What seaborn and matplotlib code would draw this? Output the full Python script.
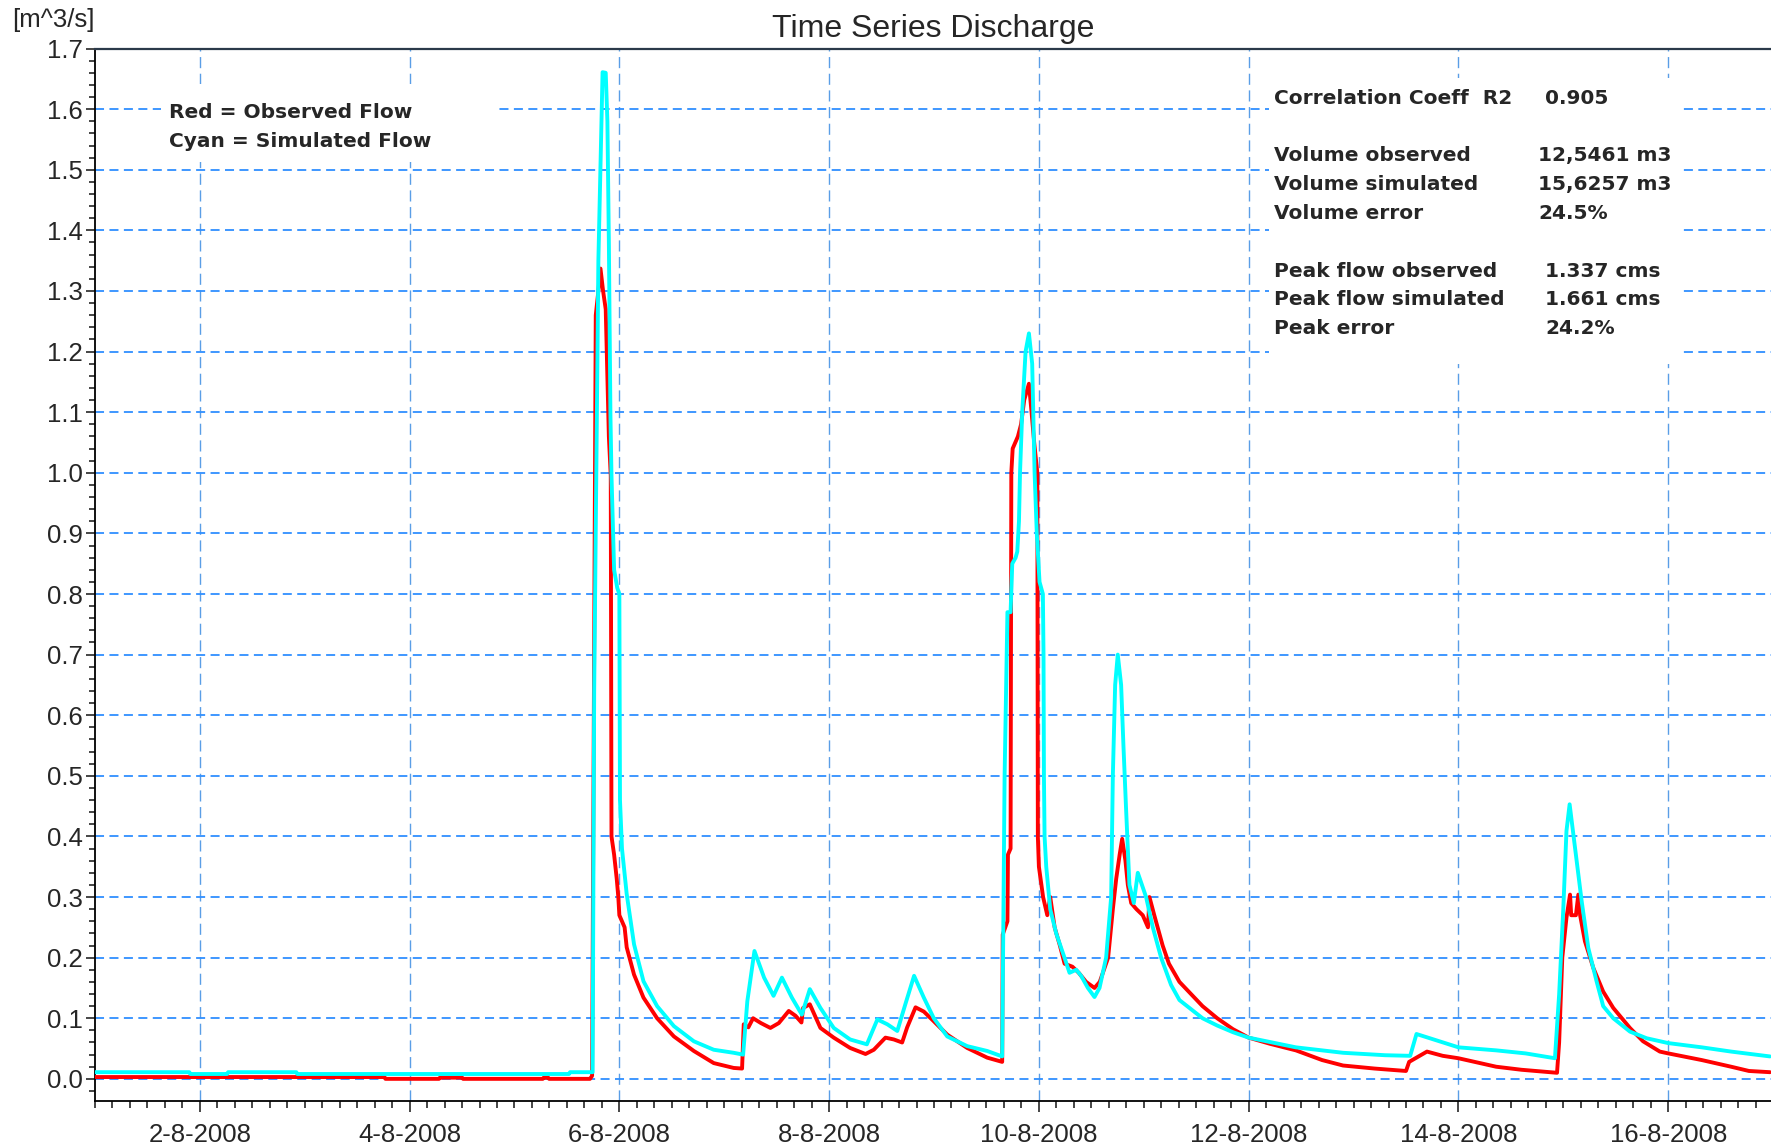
import numpy as np
import pandas as pd
import seaborn as sns
import matplotlib.pyplot as plt
import matplotlib.dates as mdates
import matplotlib.patches as patches
from matplotlib.ticker import MultipleLocator, FormatStrFormatter, FuncFormatter

sns.set_style('white')
plt.rcParams['font.family'] = ['Liberation Sans', 'DejaVu Sans']

# time in days after 1-8-2008 00:00, flow in m3/s
obs_day = [0.0, 2.76, 2.77, 3.28, 3.29, 3.50, 3.51, 4.27, 4.28, 4.32, 4.33, 4.72,
           4.74, 4.75, 4.775, 4.80, 4.82, 4.845, 4.87, 4.90, 4.918, 4.925, 4.95, 4.975,
           4.99, 5.0, 5.05, 5.07, 5.14, 5.23, 5.36, 5.52, 5.71, 5.90, 6.09, 6.17,
           6.186, 6.23, 6.275, 6.35, 6.44, 6.52, 6.615, 6.68, 6.736, 6.752, 6.816, 6.917,
           7.044, 7.2, 7.347, 7.426, 7.537, 7.617, 7.696, 7.744, 7.824, 7.903, 7.998, 8.126,
           8.316, 8.507, 8.65, 8.655, 8.70, 8.705, 8.73, 8.737, 8.75, 8.80, 8.83, 8.86,
           8.905, 8.93, 8.955, 8.985, 8.99, 9.0, 9.04, 9.08, 9.108, 9.15, 9.2, 9.245,
           9.32, 9.38, 9.45, 9.53, 9.58, 9.66, 9.705, 9.737, 9.77, 9.794, 9.825, 9.848,
           9.88, 9.93, 9.99, 10.04, 10.054, 10.1, 10.18, 10.24, 10.34, 10.45, 10.56, 10.7,
           10.85, 11.0, 11.2, 11.45, 11.7, 11.9, 12.2, 12.5, 12.53, 12.6, 12.7, 12.85,
           13.0, 13.36, 13.6, 13.94, 13.96, 13.99, 14.03, 14.064, 14.075, 14.12, 14.143, 14.16,
           14.206, 14.286, 14.38, 14.476, 14.635, 14.76, 14.92, 15.0, 15.32, 15.6, 15.77, 15.97]
obs_flow = [0.003, 0.003, 0.0, 0.0, 0.002, 0.002, 0.0, 0.0, 0.002, 0.002, 0.0, 0.0,
            0.005, 0.37, 1.26, 1.30, 1.337, 1.30, 1.27, 1.06, 0.995, 0.40, 0.37, 0.33,
            0.30, 0.27, 0.25, 0.217, 0.172, 0.134, 0.10, 0.07, 0.046, 0.026, 0.018, 0.017,
            0.09, 0.085, 0.10, 0.092, 0.084, 0.092, 0.112, 0.104, 0.093, 0.117, 0.123, 0.084,
            0.068, 0.051, 0.041, 0.048, 0.068, 0.065, 0.06, 0.085, 0.118, 0.111, 0.095, 0.073,
            0.051, 0.035, 0.028, 0.238, 0.26, 0.37, 0.38, 1.0, 1.04, 1.06, 1.08, 1.12,
            1.147, 1.1, 1.05, 1.0, 0.40, 0.35, 0.30, 0.27, 0.30, 0.25, 0.22, 0.19,
            0.185, 0.175, 0.16, 0.15, 0.16, 0.20, 0.28, 0.33, 0.37, 0.396, 0.36, 0.32,
            0.29, 0.28, 0.27, 0.25, 0.30, 0.27, 0.22, 0.19, 0.16, 0.14, 0.12, 0.10,
            0.082, 0.068, 0.058, 0.047, 0.031, 0.022, 0.017, 0.013, 0.028, 0.035, 0.045, 0.038,
            0.034, 0.02, 0.015, 0.010, 0.06, 0.20, 0.266, 0.304, 0.27, 0.27, 0.304, 0.27,
            0.227, 0.183, 0.144, 0.117, 0.084, 0.062, 0.045, 0.042, 0.031, 0.02, 0.013, 0.011]

sim_day = [0.0, 0.90, 0.91, 1.26, 1.27, 1.92, 1.93, 4.52, 4.53, 4.745, 4.76, 4.78,
           4.80, 4.84, 4.87, 4.886, 4.90, 4.915, 4.925, 4.95, 4.98, 5.0, 5.006, 5.025,
           5.07, 5.14, 5.23, 5.36, 5.52, 5.71, 5.90, 6.09, 6.18, 6.22, 6.288, 6.38,
           6.47, 6.55, 6.645, 6.74, 6.816, 6.917, 7.044, 7.2, 7.36, 7.46, 7.555, 7.65,
           7.73, 7.81, 7.903, 7.998, 8.126, 8.316, 8.507, 8.65, 8.673, 8.70, 8.73, 8.746,
           8.778, 8.794, 8.81, 8.82, 8.841, 8.873, 8.905, 8.936, 8.959, 8.98, 9.006, 9.038,
           9.044, 9.048, 9.054, 9.07, 9.108, 9.165, 9.244, 9.292, 9.356, 9.403, 9.467, 9.53,
           9.578, 9.641, 9.689, 9.705, 9.727, 9.752, 9.784, 9.806, 9.83, 9.863, 9.905, 9.943,
           10.022, 10.086, 10.165, 10.26, 10.34, 10.45, 10.56, 10.7, 10.85, 11.0, 11.45, 11.9,
           12.3, 12.54, 12.6, 12.8, 13.0, 13.36, 13.64, 13.92, 13.96, 14.0, 14.03, 14.06,
           14.08, 14.127, 14.175, 14.238, 14.317, 14.38, 14.476, 14.635, 14.794, 15.0, 15.32, 15.6,
           15.97]
sim_flow = [0.011, 0.011, 0.008, 0.008, 0.011, 0.011, 0.008, 0.008, 0.011, 0.011, 0.64, 1.0,
            1.35, 1.661, 1.66, 1.58, 1.38, 1.095, 0.995, 0.84, 0.81, 0.80, 0.46, 0.38,
            0.305, 0.222, 0.161, 0.12, 0.087, 0.062, 0.048, 0.043, 0.040, 0.128, 0.211, 0.167,
            0.137, 0.167, 0.134, 0.106, 0.148, 0.117, 0.084, 0.065, 0.057, 0.098, 0.090, 0.079,
            0.125, 0.17, 0.134, 0.10, 0.07, 0.054, 0.046, 0.037, 0.50, 0.77, 0.77, 0.85,
            0.86, 0.87, 0.92, 1.0, 1.1, 1.2, 1.23, 1.18, 1.0, 0.9, 0.82, 0.80,
            0.70, 0.50, 0.40, 0.35, 0.28, 0.24, 0.20, 0.175, 0.18, 0.17, 0.15, 0.135,
            0.15, 0.20, 0.30, 0.50, 0.65, 0.70, 0.65, 0.55, 0.45, 0.32, 0.29, 0.34,
            0.30, 0.25, 0.20, 0.155, 0.13, 0.115, 0.10, 0.088, 0.077, 0.068, 0.052, 0.043,
            0.039, 0.038, 0.074, 0.063, 0.052, 0.047, 0.042, 0.034, 0.139, 0.282, 0.409, 0.453,
            0.425, 0.359, 0.293, 0.216, 0.161, 0.12, 0.10, 0.078, 0.067, 0.059, 0.052, 0.045,
            0.037]

stat_labels = ['Correlation Coeff  R2', 'Volume observed', 'Volume simulated', 'Volume error',
               'Peak flow observed', 'Peak flow simulated', 'Peak error']
stat_values = ['0.905', '12,5461 m3', '15,6257 m3', '24.5%', '1.337 cms', '1.661 cms', '24.2%']
legend_lines = ['Red = Observed Flow', 'Cyan = Simulated Flow']

start = pd.Timestamp('2008-08-01')
obs = pd.DataFrame({'time': start + pd.to_timedelta(obs_day, unit='D'), 'flow': obs_flow})
sim = pd.DataFrame({'time': start + pd.to_timedelta(sim_day, unit='D'), 'flow': sim_flow})

fig = plt.figure(figsize=(17.71, 11.48), dpi=100)
ax = fig.add_axes([0.0536, 0.0407, 0.9464, 0.917])

sns.lineplot(data=obs, x='time', y='flow', color='#ff0000', lw=2.8, ax=ax,
             estimator=None, sort=False, zorder=3)
sns.lineplot(data=sim, x='time', y='flow', color='#00ffff', lw=2.8, ax=ax,
             estimator=None, sort=False, zorder=4)

ax.set_xlim(start, start + pd.Timedelta(days=15.98))
ax.set_ylim(-0.037, 1.70)
ax.set_xlabel('')
ax.set_ylabel('')

ax.xaxis.set_major_locator(mdates.DayLocator(bymonthday=range(2, 32, 2)))
ax.xaxis.set_minor_locator(mdates.HourLocator(byhour=range(0, 24, 4)))
ax.xaxis.set_major_formatter(FuncFormatter(
    lambda v, pos: '{0.day}-{0.month}-{0.year}'.format(mdates.num2date(v))))
ax.yaxis.set_major_locator(MultipleLocator(0.1))
ax.yaxis.set_minor_locator(MultipleLocator(0.02))
ax.yaxis.set_major_formatter(FormatStrFormatter('%.1f'))

ax.tick_params(axis='y', which='major', direction='out', length=6.5, width=1.2,
               labelsize=18.5, pad=2, left=True)
ax.tick_params(axis='y', which='minor', direction='out', length=4.5, width=1.2, left=True)
ax.tick_params(axis='x', which='major', direction='out', length=8, width=1.2,
               labelsize=18.5, pad=8, bottom=True)
ax.tick_params(axis='x', which='minor', direction='out', length=5, width=1.2, bottom=True)

ax.set_axisbelow(True)
ax.grid(which='major', axis='y', color='#2f8fff', lw=1.3, ls=(0, (5, 3)))
ax.grid(which='major', axis='x', color='#5a9ee6', lw=1.0, ls=(0, (8, 4)))

for side in ['left', 'bottom']:
    ax.spines[side].set_color('black')
    ax.spines[side].set_linewidth(1.3)
ax.spines['top'].set_color('#2b3a4a')
ax.spines['top'].set_linewidth(1.6)
ax.spines['right'].set_visible(False)

# white panels behind the annotation text
ax.add_patch(patches.Rectangle((0.0394, 0.8923), 0.2005, 0.0741, transform=ax.transAxes,
                               facecolor='white', edgecolor='none', zorder=1))
ax.add_patch(patches.Rectangle((0.7005, 0.7004), 0.245, 0.2715, transform=ax.transAxes,
                               facecolor='white', edgecolor='none', zorder=1))

for txt, yy in zip(legend_lines, [0.9395, 0.9120]):
    ax.text(0.0442, yy, txt, transform=ax.transAxes, fontsize=14.5, fontweight='bold',
            family='DejaVu Sans', va='center', ha='left', zorder=5)

stat_y = [0.9528, 0.8981, 0.8711, 0.8435, 0.7884, 0.7618, 0.7338]
value_x = [0.8652, 0.8610, 0.8610, 0.8610, 0.8652, 0.8652, 0.8652]
for lab, val, yy, vx in zip(stat_labels, stat_values, stat_y, value_x):
    ax.text(0.7034, yy, lab, transform=ax.transAxes, fontsize=14.5, fontweight='bold',
            family='DejaVu Sans', va='center', ha='left', zorder=5)
    ax.text(vx, yy, val, transform=ax.transAxes, fontsize=14.5, fontweight='bold',
            family='DejaVu Sans', va='center', ha='left', zorder=5)

ax.set_title('Time Series Discharge', fontsize=23, pad=8)
fig.text(0.0536, 1 - 20 / 1148, '[m^3/s]', fontsize=18.5, ha='right', va='center')

fig.savefig('out.png', dpi=100)
